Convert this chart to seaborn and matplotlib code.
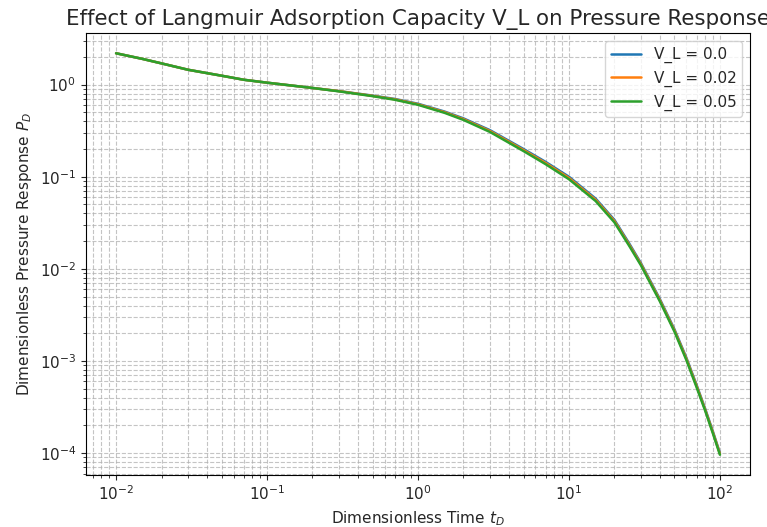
import numpy as np
import pandas as pd
import matplotlib
matplotlib.use("Agg")
import matplotlib.pyplot as plt
import seaborn as sns

# ---- data ----
t_D = [0.01, 0.015, 0.02, 0.03, 0.05, 0.07, 0.1, 0.2, 0.3, 0.5, 0.7, 1, 1.5,
       2, 3, 5, 7, 10, 15, 20, 25, 30, 40, 50, 60, 70, 80, 90, 100]
p_vl_000 = [2.19, 1.90, 1.70, 1.45, 1.25, 1.13, 1.05, 0.92, 0.85, 0.76, 0.70,
            0.62, 0.51, 0.43, 0.32, 0.20, 0.145, 0.100, 0.058, 0.034, 0.0190,
            0.0115, 0.0047, 0.0022, 0.00108, 5.5e-4, 3.0e-4, 1.7e-4, 1.0e-4]
p_vl_002 = [2.19, 1.90, 1.70, 1.45, 1.25, 1.13, 1.05, 0.92, 0.85, 0.755, 0.693,
            0.612, 0.502, 0.422, 0.313, 0.195, 0.141, 0.097, 0.0563, 0.033,
            0.0184, 0.0112, 0.00457, 0.00214, 0.00105, 5.36e-4, 2.93e-4,
            1.66e-4, 0.98e-4]
p_vl_005 = [2.19, 1.90, 1.70, 1.45, 1.25, 1.13, 1.05, 0.92, 0.845, 0.75, 0.686,
            0.604, 0.494, 0.414, 0.306, 0.19, 0.137, 0.094, 0.0546, 0.032,
            0.0179, 0.0109, 0.00444, 0.00208, 0.00102, 5.2e-4, 2.86e-4,
            1.62e-4, 0.96e-4]
series_labels = ["V_L = 0.0", "V_L = 0.02", "V_L = 0.05"]

sns.set_style("ticks")
plt.rcParams["font.family"] = ["DejaVu Sans"]

fig = plt.figure(figsize=(7.67, 5.27), dpi=100)
ax = fig.add_axes([0.112, 0.099, 0.866, 0.838])

palette = sns.color_palette("tab10", 3)
for p, lab, c in zip([p_vl_000, p_vl_002, p_vl_005], series_labels, palette):
    sns.lineplot(x=t_D, y=p, label=lab, color=c, linewidth=1.8, ax=ax)

ax.set_xscale("log")
ax.set_yscale("log")
ax.grid(True, which="both", linestyle="--", color="#b0b0b0", linewidth=0.8,
        alpha=0.75)
ax.tick_params(labelsize=11)
for s in ax.spines.values():
    s.set_visible(True)
    s.set_color("black")

ax.set_xlabel("Dimensionless Time $t_D$", fontsize=11)
ax.set_ylabel("Dimensionless Pressure Response $P_D$", fontsize=11)
ax.set_title("Effect of Langmuir Adsorption Capacity V_L on Pressure Response",
             fontsize=15.4)
ax.legend(loc="upper right", fontsize=11)

fig.savefig("out.png", dpi=100)
